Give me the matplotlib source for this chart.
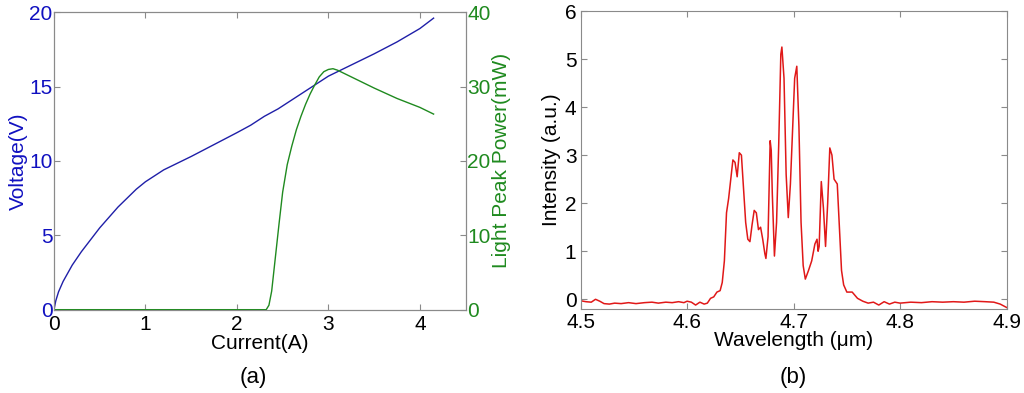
import matplotlib.pyplot as plt
import numpy as np

plt.rcParams['font.family'] = ['Liberation Sans', 'DejaVu Sans']

# (a) current-voltage and light power curves
corrente_v = [0.0, 0.02, 0.05, 0.1, 0.2, 0.3, 0.4, 0.5, 0.6, 0.7, 0.8, 0.9, 1.0, 1.1, 1.2,
              1.3, 1.4, 1.5, 1.75, 2.0, 2.15, 2.3, 2.45, 2.6, 2.75, 2.9, 3.0, 3.2, 3.5,
              3.75, 4.0, 4.15]
tensao = [0.0, 0.6, 1.2, 1.9, 3.0, 3.9, 4.7, 5.5, 6.2, 6.9, 7.5, 8.1, 8.6, 9.0, 9.4,
          9.7, 10.0, 10.3, 11.1, 11.9, 12.4, 13.0, 13.5, 14.1, 14.7, 15.3, 15.7, 16.3, 17.2,
          18.0, 18.9, 19.6]

corrente_p = [0.0, 2.32, 2.35, 2.38, 2.42, 2.46, 2.5, 2.55, 2.6, 2.65, 2.7, 2.75, 2.8,
              2.85, 2.9, 2.95, 3.0, 3.05, 3.1, 3.3, 3.5, 3.75, 4.0, 4.15]
potencia = [0.0, 0.0, 0.6, 2.5, 7.0, 11.5, 15.8, 19.5, 22.0, 24.2, 26.0, 27.6, 29.0,
            30.2, 31.3, 32.0, 32.3, 32.4, 32.2, 31.0, 29.8, 28.4, 27.2, 26.3]

# (b) spectrum
comprimento = [4.500, 4.505, 4.510, 4.514, 4.518, 4.522, 4.527, 4.532, 4.538, 4.545, 4.552,
               4.560, 4.567, 4.573, 4.580, 4.586, 4.592, 4.597, 4.600, 4.604, 4.608, 4.612,
               4.616, 4.619, 4.622, 4.625, 4.628, 4.631, 4.633, 4.635, 4.637, 4.639, 4.641,
               4.643, 4.645, 4.647, 4.649, 4.651, 4.653, 4.655, 4.657, 4.659, 4.661, 4.663,
               4.665, 4.667, 4.669, 4.671, 4.673, 4.674, 4.676, 4.678, 4.679, 4.680, 4.682,
               4.684, 4.686, 4.688, 4.689, 4.691, 4.693, 4.695, 4.697, 4.699, 4.701, 4.703,
               4.705, 4.707, 4.709, 4.711, 4.714, 4.717, 4.720, 4.722, 4.723, 4.724, 4.726,
               4.728, 4.730, 4.732, 4.734, 4.736, 4.738, 4.741, 4.743, 4.745, 4.747, 4.750,
               4.755, 4.760, 4.765, 4.770, 4.775, 4.780, 4.785, 4.790, 4.795, 4.800, 4.810,
               4.820, 4.830, 4.840, 4.850, 4.860, 4.870, 4.880, 4.888, 4.894, 4.900]
intensidade = [-0.03, -0.05, -0.06, 0.0, -0.04, -0.09, -0.1, -0.08, -0.09, -0.07, -0.09,
               -0.07, -0.06, -0.08, -0.06, -0.07, -0.05, -0.07, -0.04, -0.06, -0.12, -0.06,
               -0.1, -0.08, 0.02, 0.05, 0.15, 0.18, 0.35, 0.8, 1.8, 2.1, 2.5,
               2.9, 2.85, 2.55, 3.05, 3.0, 2.3, 1.6, 1.25, 1.2, 1.55, 1.85,
               1.8, 1.45, 1.5, 1.25, 0.95, 0.85, 1.3, 3.3, 3.1, 2.2, 0.9,
               1.6, 3.2, 5.1, 5.25, 4.6, 2.6, 1.7, 2.4, 3.5, 4.6, 4.85,
               3.6, 1.6, 0.7, 0.42, 0.6, 0.8, 1.15, 1.25, 1.0, 1.1, 2.45,
               1.9, 1.1, 2.0, 3.15, 3.0, 2.5, 2.4, 1.5, 0.6, 0.3, 0.15,
               0.15, 0.02, -0.04, -0.08, -0.06, -0.12, -0.05, -0.1, -0.06, -0.08, -0.06,
               -0.07, -0.05, -0.06, -0.05, -0.06, -0.04, -0.05, -0.06, -0.1, -0.17]

azul = '#1f1fa8'
verde = '#1f8a1f'
vermelho = '#e01818'
cinza = '#8a8a8a'
fs = 15

fig = plt.figure(figsize=(10.24, 3.93), dpi=100)

# painel (a)
ax1 = fig.add_axes([0.0527, 0.212, 0.402, 0.757])
ax1.plot(corrente_v, tensao, color=azul, lw=1.0)
ax1.set_xlim(0, 4.5)
ax1.set_ylim(0, 20)
ax1.set_xticks([0, 1, 2, 3, 4])
ax1.set_yticks([0, 5, 10, 15, 20])
ax1.set_xlabel('Current(A)', fontsize=fs, labelpad=0)
ax1.set_ylabel('Voltage(V)', fontsize=fs, color='#1010c0', labelpad=1)
ax1.tick_params(axis='y', colors='#1010c0', labelsize=fs, direction='in', length=4, pad=1)
ax1.tick_params(axis='x', labelsize=fs, direction='in', length=4, pad=4, top=True, color=cinza)
ax1.tick_params(axis='y', color=cinza)

ax2 = ax1.twinx()
ax2.plot(corrente_p, potencia, color=verde, lw=1.0)
ax2.set_ylim(0, 40)
ax2.set_yticks([0, 10, 20, 30, 40])
ax2.set_ylabel('Light Peak Power(mW)', fontsize=fs, color=verde, labelpad=1)
ax2.tick_params(axis='y', colors=verde, labelsize=fs, direction='in', length=4, pad=1)
ax2.tick_params(axis='y', color=cinza)
for ax in (ax1, ax2):
    for s in ax.spines.values():
        s.set_color(cinza)
        s.set_linewidth(0.8)

fig.text(0.247, 0.04, '(a)', ha='center', va='center', fontsize=fs + 1)

# painel (b)
ax3 = fig.add_axes([0.567, 0.214, 0.416, 0.758])
ax3.plot(comprimento, intensidade, color=vermelho, lw=1.1)
ax3.set_xlim(4.5, 4.9)
ax3.set_ylim(-0.2, 6)
ax3.set_xticks([4.5, 4.6, 4.7, 4.8, 4.9])
ax3.set_yticks([0, 1, 2, 3, 4, 5, 6])
ax3.set_xlabel('Wavelength (\u03bcm)', fontsize=fs, labelpad=-1)
ax3.set_ylabel('Intensity (a.u.)', fontsize=fs, labelpad=3)
ax3.tick_params(labelsize=fs, direction='in', length=4, pad=3, top=True, right=True, color=cinza)
for s in ax3.spines.values():
    s.set_color(cinza)
    s.set_linewidth(0.8)

fig.text(0.775, 0.04, '(b)', ha='center', va='center', fontsize=fs + 1)

fig.savefig('out.png', dpi=100)
